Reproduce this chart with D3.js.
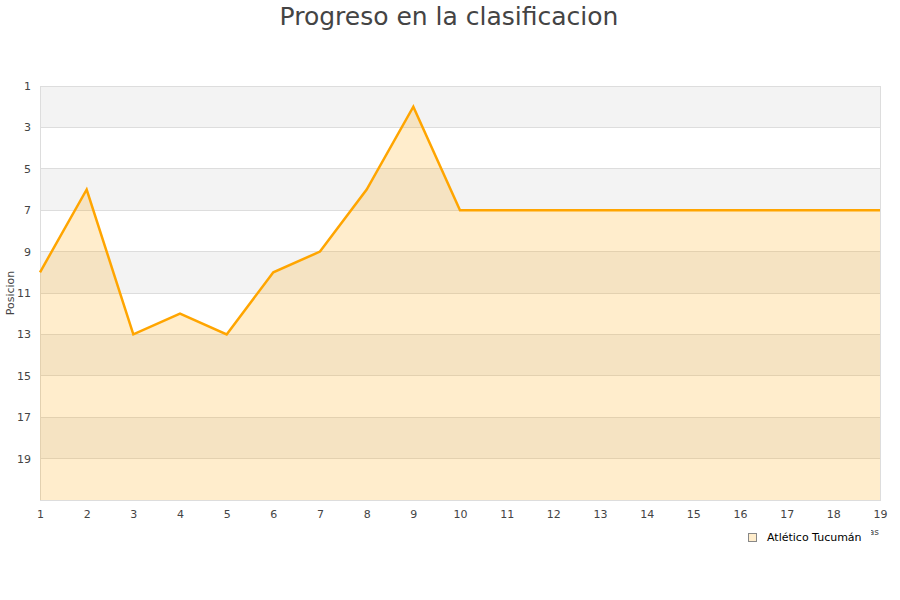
<!DOCTYPE html>
<html><head><meta charset="utf-8">
<script src="https://cdn.jsdelivr.net/npm/d3@7"></script>
<style>body{margin:0;background:#fff}svg{display:block;font-family:"DejaVu Sans",sans-serif}</style>
</head><body><svg id="c" width="900" height="600"></svg>
<script>
const jornadas = [1,2,3,4,5,6,7,8,9,10,11,12,13,14,15,16,17,18,19];
const posiciones = [10,6,13,12,13,10,9,6,2,7,7,7,7,7,7,7,7,7,7];
const yTicks = [1,3,5,7,9,11,13,15,17,19];
const equipo = "Atlético Tucumán";
const titulo = "Progreso en la clasificacion";

const svg = d3.select("#c");
const L=40,R=880,T=86,B=500;
const x = d3.scaleLinear().domain([1,19]).range([L,R]);
const y = d3.scaleLinear().domain([1,21]).range([T,B]);

const bands = svg.append("g");
yTicks.forEach((t,i)=>{
  bands.append("rect").attr("x",L).attr("width",R-L)
    .attr("y",y(t)).attr("height",y(t+2)-y(t))
    .attr("fill", i%2===0 ? "#f3f3f3" : "#ffffff");
});
svg.append("g").selectAll("line").data(yTicks).join("line")
  .attr("x1",L).attr("x2",R).attr("y1",d=>y(d)).attr("y2",d=>y(d))
  .attr("stroke","#dddddd").attr("stroke-width",1).attr("shape-rendering","crispEdges");
svg.append("rect").attr("x",L).attr("y",T).attr("width",R-L).attr("height",B-T)
  .attr("fill","none").attr("stroke","#dddddd").attr("shape-rendering","crispEdges");

const data = jornadas.map((j,i)=>({j,p:posiciones[i]}));
svg.append("path").datum(data)
  .attr("d", d3.area().x(d=>x(d.j)).y0(B).y1(d=>y(d.p)))
  .attr("fill","rgba(255,165,0,0.2)");
svg.append("path").datum(data)
  .attr("d", d3.line().x(d=>x(d.j)).y(d=>y(d.p)))
  .attr("fill","none").attr("stroke","#ffa500").attr("stroke-width",2.5).attr("stroke-linejoin","miter");

const ya = d3.axisLeft(y).tickValues(yTicks).tickSize(0).tickPadding(9);
svg.append("g").attr("transform",`translate(${L},0)`).call(ya)
  .call(g=>g.select(".domain").remove())
  .selectAll("text").attr("fill","#444").attr("font-size",11).attr("font-family","DejaVu Sans");
const xa = d3.axisBottom(x).tickValues(jornadas).tickSize(0).tickPadding(10).tickFormat(d3.format("d"));
svg.append("g").attr("transform",`translate(0,${B})`).call(xa)
  .call(g=>g.select(".domain").remove())
  .selectAll("text").attr("fill","#444").attr("font-size",11).attr("font-family","DejaVu Sans");

svg.append("text").attr("x",449).attr("y",25).attr("text-anchor","middle")
  .attr("font-size",25).attr("fill","#444").attr("font-family","DejaVu Sans").text(titulo);
svg.append("text").attr("transform",`translate(14,${(T+B)/2}) rotate(-90)`)
  .attr("text-anchor","middle").attr("font-size",11).attr("fill","#444").text("Posicion");
svg.append("text").attr("x",879).attr("y",535).attr("text-anchor","end")
  .attr("font-size",9).attr("fill","#444").text("Jornadas");

const lg = svg.append("g");
lg.append("rect").attr("x",740).attr("y",526).attr("width",131).attr("height",22).attr("fill","#fff");
lg.append("rect").attr("x",748.5).attr("y",533.5).attr("width",8).attr("height",8)
  .attr("fill","rgba(255,165,0,0.2)").attr("stroke","#888").attr("stroke-width",1);
lg.append("text").attr("x",767).attr("y",541).attr("font-size",11).attr("fill","#000").text(equipo);
</script></body></html>
